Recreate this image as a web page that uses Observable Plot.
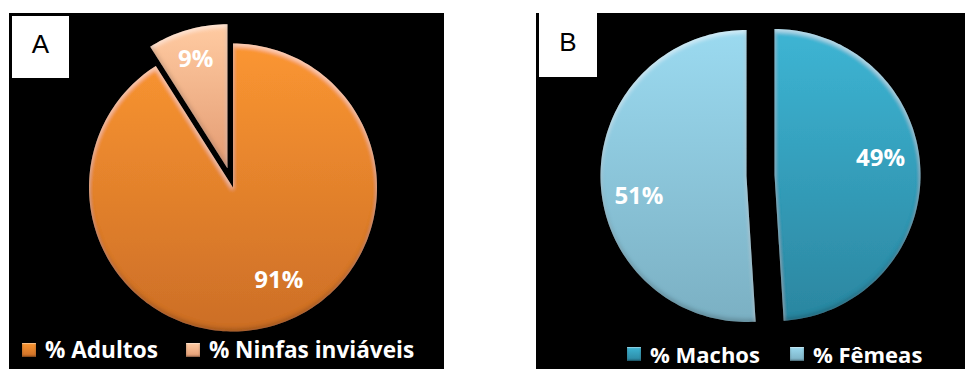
<!DOCTYPE html>
<html>
<head>
<meta charset="utf-8">
<script src="https://cdn.jsdelivr.net/npm/d3@7"></script>
<script src="https://cdn.jsdelivr.net/npm/@observablehq/plot@0.6"></script>
<style>
  html, body { margin: 0; padding: 0; background: #fff; }
  #page { position: relative; width: 965px; height: 369px; overflow: hidden; font-family: "Open Sans", sans-serif; }
  .panel { position: absolute; background: #000; overflow: hidden; }
  .panel svg { position: absolute; left: 0; top: 0; }
  .tag { position: absolute; background: #fff; color: #000; font-family: "Liberation Sans", Arial, sans-serif;
         font-size: 26px; display: flex; align-items: center; justify-content: center; box-sizing: border-box; padding-bottom: 6px; }
  .legend { position: absolute; display: flex; align-items: center; color: #fff; font-weight: 700;
            line-height: 22px; white-space: nowrap; }
  .legend .item { display: flex; align-items: center; }
  .legend .sw { width: 14px; height: 14px; margin-right: 9px;
                box-shadow: inset 0 1px 1px rgba(255,255,255,.45), inset 0 -1px 2px rgba(0,0,0,.45); }
</style>
</head>
<body>
<div id="page"></div>
<script>
// A — fate of the nymphs
const stageLabels = ["% Adultos", "% Ninfas inviáveis"];
const stageValues = [91, 9];

// B — sex ratio of emerged adults
const sexLabels = ["% Machos", "% Fêmeas"];
const sexValues = [49, 51];

// Layout and styling of each panel (pixels are relative to the panel box)
const panels = [
  {
    id: "pa", tag: "A", labels: stageLabels, values: stageValues,
    left: 9, top: 13, W: 435, H: 356, cx: 223.5, cy: 174, r: 144,
    explode: [0, 0.139],
    labelPos: [{turn: -10, dist: 0.72}, {turn: 0, dist: 0.79}],
    colors: [["#fb9631", "#cc6e27"], ["#ffcba2", "#e39b72"]],
    tagBox: {left: 3, top: 3, width: 57, height: 62},
    legend: {left: 13, top: 325.5, gap: 28, fontSize: 22.6}
  },
  {
    id: "pb", tag: "B", labels: sexLabels, values: sexValues,
    left: 536, top: 13, W: 429, H: 356, cx: 224, cy: 162, r: 146,
    explode: [0.096, 0.096],
    labelPos: [{turn: -7, dist: 0.735}, {turn: -9, dist: 0.75}],
    colors: [["#3db5d4", "#2b86a0"], ["#9bdaf0", "#7bb0c3"]],
    tagBox: {left: 3, top: 0, width: 58, height: 64},
    legend: {left: 91, top: 329.5, gap: 30, fontSize: 22}
  }
];

// Slice angles, clockwise from 12 o'clock
function pieSlices(labels, values) {
  return d3.pie().sort(null).value(d => d)(values).map((a, i) => ({
    label: labels[i], value: values[i],
    a0: a.startAngle, a1: a.endAngle, mid: (a.startAngle + a.endAngle) / 2
  }));
}

// Outline of one slice in unit-radius coordinates, pulled out along its mid-angle
function sliceOutline(s, explode) {
  const ox = explode * Math.sin(s.mid), oy = explode * Math.cos(s.mid);
  const pts = [{x: ox, y: oy}];
  const n = Math.max(2, Math.ceil((s.a1 - s.a0) / (Math.PI / 120)));
  for (let k = 0; k <= n; k++) {
    const t = s.a0 + (s.a1 - s.a0) * k / n;
    pts.push({x: ox + Math.sin(t), y: oy + Math.cos(t)});
  }
  pts.push({x: ox, y: oy});
  return pts;
}

// Vertical gradients for each slice and a soft bevel (light top rim, dark bottom rim)
function addDefs(svg, cfg) {
  const defs = d3.select(svg).insert("defs", ":first-child");
  cfg.colors.forEach(([c0, c1], i) => {
    const g = defs.append("linearGradient").attr("id", `${cfg.id}-g${i}`)
      .attr("x1", 0).attr("y1", 0).attr("x2", 0).attr("y2", 1);
    g.append("stop").attr("offset", "0%").attr("stop-color", c0);
    g.append("stop").attr("offset", "100%").attr("stop-color", c1);
  });
  const f = defs.append("filter").attr("id", `${cfg.id}-bevel`)
    .attr("x", "-5%").attr("y", "-5%").attr("width", "110%").attr("height", "110%");
  f.append("feGaussianBlur").attr("in", "SourceAlpha").attr("stdDeviation", 2.2).attr("result", "blur");
  f.append("feOffset").attr("in", "blur").attr("dx", 0).attr("dy", 3).attr("result", "down");
  f.append("feComposite").attr("in", "SourceAlpha").attr("in2", "down").attr("operator", "out").attr("result", "topRim");
  f.append("feFlood").attr("flood-color", "#fff").attr("flood-opacity", 0.5).attr("result", "white");
  f.append("feComposite").attr("in", "white").attr("in2", "topRim").attr("operator", "in").attr("result", "hi");
  f.append("feOffset").attr("in", "blur").attr("dx", 0).attr("dy", -3).attr("result", "up");
  f.append("feComposite").attr("in", "SourceAlpha").attr("in2", "up").attr("operator", "out").attr("result", "botRim");
  f.append("feFlood").attr("flood-color", "#000").attr("flood-opacity", 0.4).attr("result", "black");
  f.append("feComposite").attr("in", "black").attr("in2", "botRim").attr("operator", "in").attr("result", "lo");
  const m = f.append("feMerge");
  m.append("feMergeNode").attr("in", "SourceGraphic");
  m.append("feMergeNode").attr("in", "hi");
  m.append("feMergeNode").attr("in", "lo");
}

function piePlot(cfg) {
  const {W, H, cx, cy, r} = cfg;
  const slices = pieSlices(cfg.labels, cfg.values);
  const marks = slices.map((s, i) => Plot.line(sliceOutline(s, cfg.explode[i]), {
    x: "x", y: "y", fill: cfg.colors[i][0], stroke: "none", curve: "linear"
  }));
  const labelData = slices.map((s, i) => {
    const e = cfg.explode[i], p = cfg.labelPos[i];
    const a = s.mid + p.turn * Math.PI / 180;
    return {
      x: e * Math.sin(s.mid) + p.dist * Math.sin(a),
      y: e * Math.cos(s.mid) + p.dist * Math.cos(a),
      text: `${s.value}%`
    };
  });
  marks.push(Plot.text(labelData, {
    x: "x", y: "y", text: "text", fill: "white", fontSize: 24, fontWeight: "bold",
    fontFamily: "Open Sans"
  }));
  const svg = Plot.plot({
    width: W, height: H, margin: 0,
    x: {domain: [-cx / r, (W - cx) / r], axis: null},
    y: {domain: [-(H - cy) / r, cy / r], axis: null},
    style: {background: "transparent", overflow: "visible"},
    marks
  });
  addDefs(svg, cfg);
  // slice groups come in mark order: give each its gradient and the bevel
  d3.select(svg).selectAll('g[aria-label="line"]').each(function(_, i) {
    d3.select(this).attr("fill", `url(#${cfg.id}-g${i})`).attr("filter", `url(#${cfg.id}-bevel)`);
  });
  return svg;
}

const page = d3.select("#page");
panels.forEach(cfg => {
  const panel = page.append("div").attr("class", "panel")
    .style("left", cfg.left + "px").style("top", cfg.top + "px")
    .style("width", cfg.W + "px").style("height", cfg.H + "px");
  panel.node().appendChild(piePlot(cfg));
  panel.append("div").attr("class", "tag").text(cfg.tag)
    .style("left", cfg.tagBox.left + "px").style("top", cfg.tagBox.top + "px")
    .style("width", cfg.tagBox.width + "px").style("height", cfg.tagBox.height + "px");
  const legend = panel.append("div").attr("class", "legend")
    .style("left", cfg.legend.left + "px").style("top", cfg.legend.top + "px")
    .style("gap", cfg.legend.gap + "px").style("font-size", cfg.legend.fontSize + "px");
  cfg.labels.forEach((name, i) => {
    const item = legend.append("div").attr("class", "item");
    item.append("div").attr("class", "sw")
      .style("background", `linear-gradient(${cfg.colors[i][0]}, ${cfg.colors[i][1]})`);
    item.append("span").text(name);
  });
});
</script>
</body>
</html>
